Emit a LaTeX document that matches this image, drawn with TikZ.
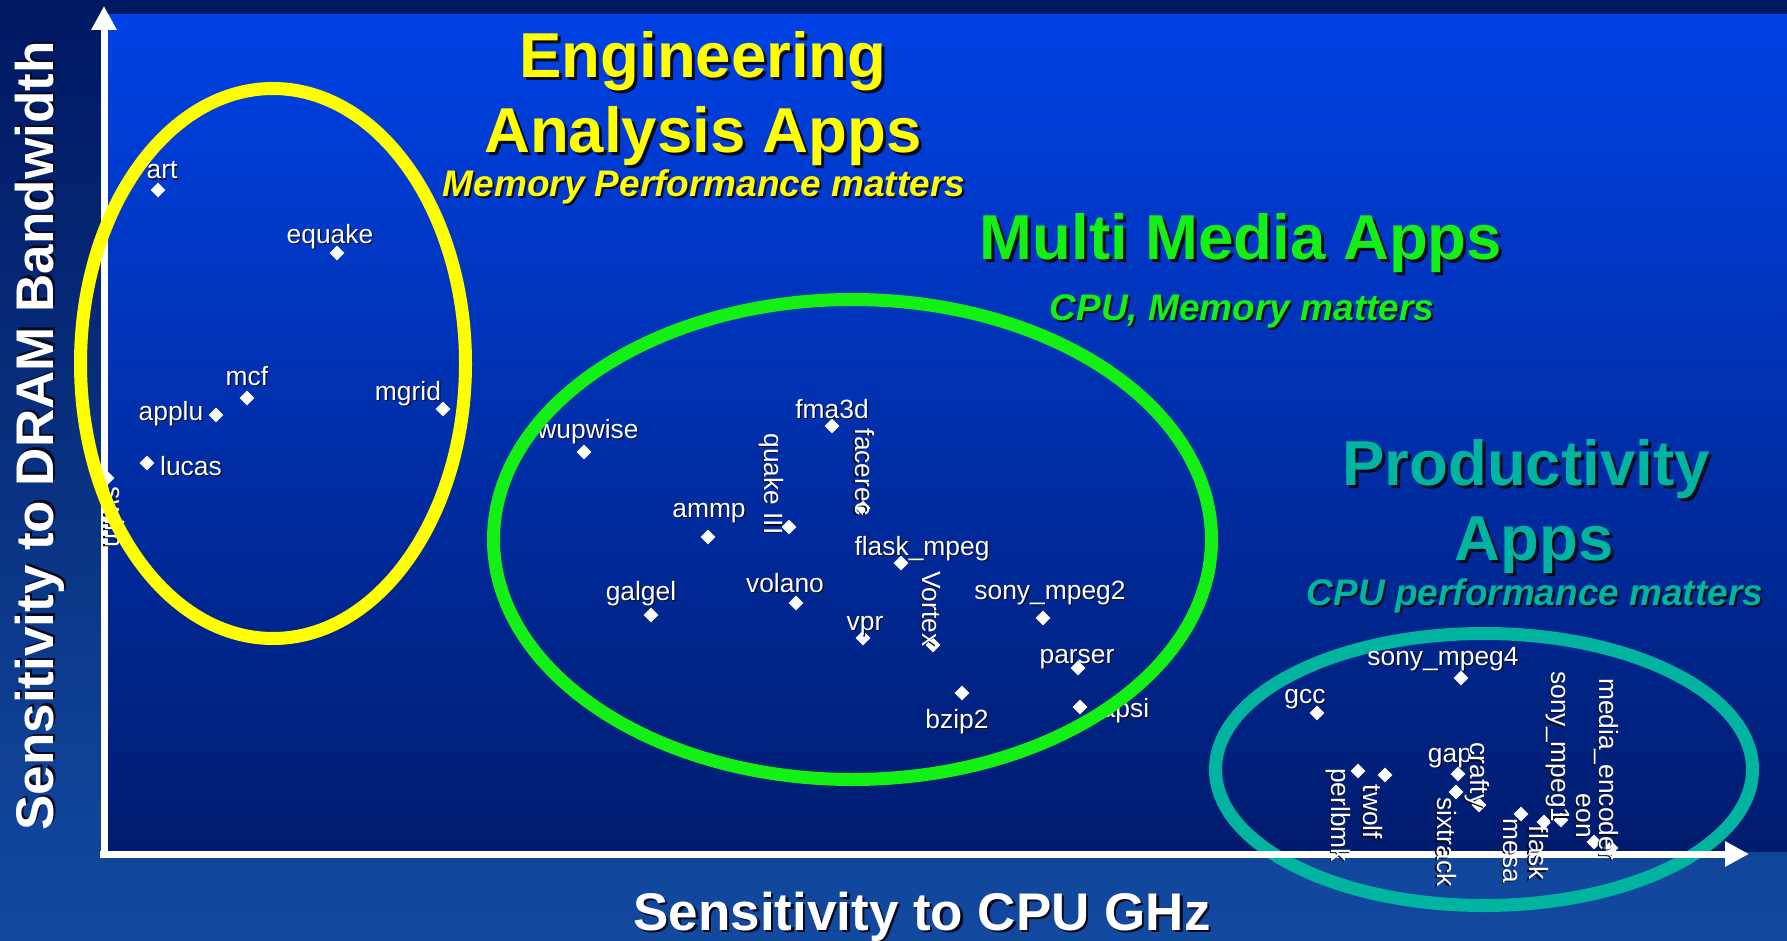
\documentclass[tikz,border=0pt]{standalone}
\usepackage{fontspec}
\setmainfont{Liberation Sans}
\usetikzlibrary{arrows.meta,shapes.geometric}

\definecolor{navytop}{RGB}{0,24,98}
\definecolor{navybot}{RGB}{18,74,160}
\definecolor{plottop}{RGB}{0,66,230}
\definecolor{plotbot}{RGB}{0,28,110}
\definecolor{engyellow}{RGB}{255,255,0}
\definecolor{mmgreen}{RGB}{20,240,20}
\definecolor{prodteal}{RGB}{0,180,160}
\definecolor{shcol}{RGB}{10,10,30}

% text with a drop shadow: #1 = offset, #2 = text
\newcommand\shtext[2]{\rlap{\kern#1\raisebox{-#1}{\color{shcol}#2}}#2}

\begin{document}
\begin{tikzpicture}[x=0.5pt,y=-0.5pt,
  bench/.style={diamond, fill=white, inner sep=0pt, minimum size=7.5pt},
  lab/.style={inner sep=0pt, text=white, font=\fontsize{13.2pt}{15pt}\selectfont},
  hlab/.style={lab, anchor=base},
  vlab/.style={lab, anchor=center, rotate=-90},
  title/.style={inner sep=0pt, anchor=base, font=\bfseries\fontsize{31.75pt}{36pt}\selectfont},
  subtitle/.style={inner sep=0pt, anchor=base, font=\bfseries\itshape\fontsize{18.5pt}{22pt}\selectfont},
  axislabel/.style={inner sep=0pt, anchor=base, text=white, font=\bfseries\fontsize{26.5pt}{30pt}\selectfont},
  axisline/.style={white, line width=3.5pt, -{Triangle[width=12pt,length=12pt]}},
  ring/.style={line width=6.5pt}]

% frame and plot area
\useasboundingbox (0,0) rectangle (1787,941);
\shade[top color=navytop, bottom color=navybot] (0,0) rectangle (1787,941);
\shade[top color=plottop, bottom color=plotbot] (108,15) rectangle (1787,851);

% productivity group ring (under the axis)
\draw[ring, prodteal] (1484,769.5) ellipse [x radius=134.25pt, y radius=68pt];

% axes
\coordinate (origin) at (104,858);
\coordinate (ytip) at (104,6);
\coordinate (xstart) at (100,854);
\coordinate (xtip) at (1749,854);
\draw[axisline] (origin) -- (ytip);
\draw[axisline] (xstart) -- (xtip);

% benchmark points
\foreach \n/\x/\y in {art/158/190, equake/337/253, mcf/247/398, applu/216/415,
    mgrid/443/409, lucas/147/463, swim/107/478,
    wupwise/584/452, fmad/832/426, facerec/863/508, quake/789/527, ammp/708/537,
    flaskmpeg/901/563, vortex/933/645, volano/796/603, galgel/651/615, vpr/863/638,
    sonympegb/1043/618, parser/1078/668, bzip/962/693, apsi/1080/707,
    sonympegd/1461/678, gcc/1317/713, perlbmk/1358/771, twolf/1385/775,
    gap/1458/774, crafty/1479/805, sixtrack/1456/792, mesa/1521/814,
    flask/1544/822, sonympega/1561/820, eon/1594/842, mediaenc/1611/848}
  \node[bench] (\n) at (\x,\y) {};

% horizontal labels
\node[hlab] (art-l) at (162,179) {\shtext{0.6pt}{art}};
\node[hlab] (equake-l) at (330,243) {\shtext{0.6pt}{equake}};
\node[hlab] (mcf-l) at (247,385) {\shtext{0.6pt}{mcf}};
\node[hlab] (applu-l) at (171,420) {\shtext{0.6pt}{applu}};
\node[hlab] (mgrid-l) at (408,400) {\shtext{0.6pt}{mgrid}};
\node[hlab] (lucas-l) at (191,475) {\shtext{0.6pt}{lucas}};
\node[hlab] (wupwise-l) at (588,438) {\shtext{0.6pt}{wupwise}};
\node[hlab] (fmad-l) at (832,418) {\shtext{0.6pt}{fma3d}};
\node[hlab] (ammp-l) at (709,517) {\shtext{0.6pt}{ammp}};
\node[hlab] (flaskmpeg-l) at (922,555) {\shtext{0.6pt}{flask\_mpeg}};
\node[hlab] (volano-l) at (785,592) {\shtext{0.6pt}{volano}};
\node[hlab] (galgel-l) at (641,600) {\shtext{0.6pt}{galgel}};
\node[hlab] (vpr-l) at (865,630) {\shtext{0.6pt}{vpr}};
\node[hlab] (sonympegb-l) at (1050,599) {\shtext{0.6pt}{sony\_mpeg2}};
\node[hlab] (parser-l) at (1077,663) {\shtext{0.6pt}{parser}};
\node[hlab] (bzip-l) at (957,728) {\shtext{0.6pt}{bzip2}};
\node[hlab] (apsi-l) at (1125,717) {\shtext{0.6pt}{apsi}};
\node[hlab] (sonympegd-l) at (1443,665) {\shtext{0.6pt}{sony\_mpeg4}};
\node[hlab] (gcc-l) at (1305,703) {\shtext{0.6pt}{gcc}};
\node[hlab] (gap-l) at (1450,762) {\shtext{0.6pt}{gap}};

% vertical labels
\node[vlab] (swim-l) at (114,517) {\shtext{0.6pt}{swim}};
\node[vlab] (quake-l) at (771,484) {\shtext{0.6pt}{quake III}};
\node[vlab] (facerec-l) at (864,472) {\shtext{0.6pt}{facerec}};
\node[vlab] (vortex-l) at (931,609) {\shtext{0.6pt}{Vortex}};
\node[vlab] (perlbmk-l) at (1338,815) {\shtext{0.6pt}{perlbmk}};
\node[vlab] (twolf-l) at (1372,812) {\shtext{0.6pt}{twolf}};
\node[vlab] (crafty-l) at (1477,775) {\shtext{0.6pt}{crafty}};
\node[vlab] (sixtrack-l) at (1446,842) {\shtext{0.6pt}{sixtrack}};
\node[vlab] (mesa-l) at (1510,851) {\shtext{0.6pt}{mesa}};
\node[vlab] (flask-l) at (1538,853) {\shtext{0.6pt}{flask}};
\node[vlab] (sonympega-l) at (1557,747) {\shtext{0.6pt}{sony\_mpeg1}};
\node[vlab] (eon-l) at (1583,816) {\shtext{0.6pt}{eon}};
\node[vlab] (mediaenc-l) at (1606,769) {\shtext{0.6pt}{media\_encoder}};

% group rings
\draw[ring, mmgreen] (852.5,539.5) ellipse [x radius=179.5pt, y radius=120pt];
\draw[ring, engyellow] (273,363.5) ellipse [x radius=96.25pt, y radius=137.5pt];

% group titles
\node[title, text=engyellow] (eng-a) at (703,78) {\shtext{1.5pt}{Engineering}};
\node[title, text=engyellow] (eng-b) at (703,153) {\shtext{1.5pt}{Analysis Apps}};
\node[subtitle, text=engyellow] (eng-c) at (704,197) {\shtext{1pt}{Memory Performance matters}};
\node[title, text=mmgreen] (mm-a) at (1241,260) {\shtext{1.5pt}{Multi Media Apps}};
\node[subtitle, text=mmgreen] (mm-b) at (1242,321) {\shtext{1pt}{CPU, Memory matters}};
\node[title, text=prodteal] (pr-a) at (1526,485) {\shtext{1.5pt}{Productivity}};
\node[title, text=prodteal] (pr-b) at (1534,560) {\shtext{1.5pt}{Apps}};
\node[subtitle, text=prodteal] (pr-c) at (1535,605) {\shtext{1pt}{CPU performance matters}};

% axis titles
\node[axislabel] (xlabel) at (922,930) {\shtext{1.2pt}{Sensitivity to CPU GHz}};
\node[axislabel, rotate=90] (ylabel) at (53,436) {\shtext{1.2pt}{Sensitivity to DRAM Bandwidth}};
\end{tikzpicture}
\end{document}
